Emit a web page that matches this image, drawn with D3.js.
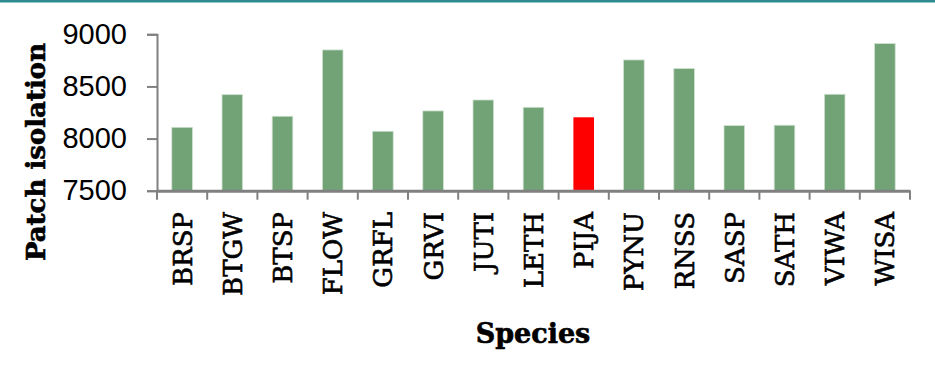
<!DOCTYPE html>
<html>
<head>
<meta charset="utf-8">
<script src="https://cdn.jsdelivr.net/npm/d3@7"></script>
<style>
html,body{margin:0;padding:0;background:#fff;}
svg{display:block;}
</style>
</head>
<body>
<svg id="chart" width="935" height="382"></svg>
<script>
const categories = ["BRSP","BTGW","BTSP","FLOW","GRFL","GRVI","JUTI","LETH","PIJA","PYNU","RNSS","SASP","SATH","VIWA","WISA"];
const values = [8108, 8421, 8214, 8850, 8070, 8265, 8370, 8300, 8204, 8754, 8671, 8124, 8128, 8425, 8911];
const highlighted = ["PIJA"];
const yTicks = [7500, 8000, 8500, 9000];
const yTitle = "Patch isolation";
const xTitle = "Species";

const svg = d3.select("#chart");
const W = 935, H = 382;

// top border line
svg.append("rect").attr("x",0).attr("y",0).attr("width",W).attr("height",2.5).attr("fill","#2e8b8f");

const xb = d3.scaleBand().domain(categories).range([157, 910]);
const y = d3.scaleLinear().domain([7500, 9000]).range([190.7, 34.3]);

// bars
svg.append("g").selectAll("rect").data(categories).join("rect")
  .attr("x", d => xb(d) + xb.bandwidth()/2 - 10.3)
  .attr("width", 20.6)
  .attr("y", (d,i) => y(values[i]))
  .attr("height", (d,i) => y(7500) - y(values[i]))
  .attr("fill", d => highlighted.includes(d) ? "#ff0000" : "#71a377")
  .attr("stroke", d => highlighted.includes(d) ? "none" : "#cfe0cf")
  .attr("stroke-width", 0.8);

// y axis
const yAxis = d3.axisLeft(y).tickValues(yTicks).tickSize(10).tickPadding(20).tickFormat(d3.format("d"));
const gy = svg.append("g").attr("transform","translate(157,0)").call(yAxis);
gy.select(".domain").attr("stroke","#808080").attr("stroke-width",2);
gy.selectAll(".tick line").attr("stroke","#808080").attr("stroke-width",2);
gy.selectAll(".tick text").attr("font-family","'Liberation Sans', Arial, sans-serif").attr("font-size",29).attr("fill","#000");

// x axis
const xAxis = d3.axisBottom(xb).tickSize(0).tickFormat("");
const gx = svg.append("g").attr("transform","translate(0,190.7)").call(xAxis);
gx.select(".domain").attr("stroke","#808080").attr("stroke-width",3);
const bounds = categories.map(c => xb(c)).concat([xb(categories[categories.length-1]) + xb.bandwidth()]);
gx.selectAll("line.bt").data(bounds).join("line").attr("class","bt")
  .attr("x1", d => d).attr("x2", d => d).attr("y1", 0).attr("y2", 9)
  .attr("stroke","#808080").attr("stroke-width",2);

// category labels
svg.append("g").selectAll("text").data(categories).join("text")
  .attr("transform", d => `translate(${xb(d) + xb.bandwidth()/2 + 9.5},212) rotate(-90)`)
  .attr("text-anchor","end")
  .attr("font-family","'DejaVu Serif', serif")
  .attr("font-size",26)
  .attr("fill","#000")
  .attr("stroke","#000")
  .attr("stroke-width",0.6)
  .text(d => d);

// axis titles
svg.append("text")
  .attr("transform","translate(45,152) rotate(-90)")
  .attr("text-anchor","middle")
  .attr("font-family","'DejaVu Serif', serif")
  .attr("font-weight","bold")
  .attr("font-size",26)
  .attr("fill","#000")
  .attr("stroke","#000")
  .attr("stroke-width",0.6)
  .text(yTitle);

svg.append("text")
  .attr("x",533).attr("y",343)
  .attr("text-anchor","middle")
  .attr("font-family","'DejaVu Serif', serif")
  .attr("font-weight","bold")
  .attr("font-size",27)
  .attr("fill","#000")
  .attr("stroke","#000")
  .attr("stroke-width",0.6)
  .text(xTitle);
</script>
</body>
</html>
